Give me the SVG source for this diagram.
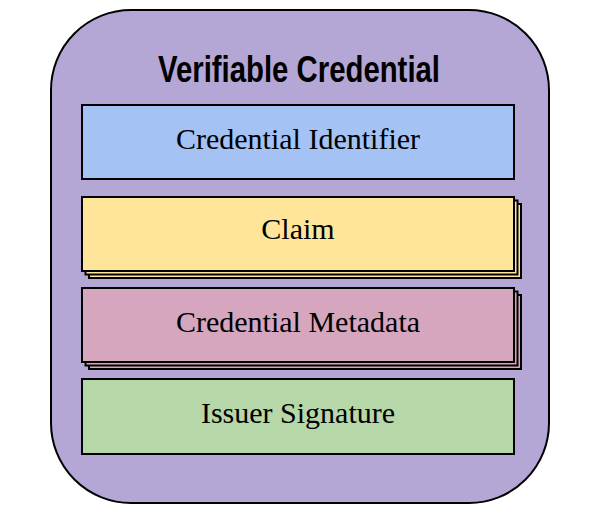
<svg xmlns="http://www.w3.org/2000/svg" width="600" height="513" viewBox="0 0 600 513">
<style>
.box{stroke:#000;stroke-width:2}
.lbl{font-family:"Liberation Serif","DejaVu Serif",serif;font-size:30px;fill:#000;text-anchor:middle}
</style>
<rect width="600" height="513" fill="#fff"/>
<g id="verifiable-credential">
<rect x="51" y="10" width="498" height="493" rx="80" ry="80" fill="#b4a7d6" stroke="#000" stroke-width="2"/>
<text x="299" y="82" font-family="'Liberation Sans',sans-serif" font-weight="bold" font-size="37" text-anchor="middle" fill="#000" textLength="282" lengthAdjust="spacingAndGlyphs">Verifiable Credential</text>
</g>
<g id="credential-identifier">
<rect class="box" x="82" y="105" width="432" height="74" fill="#a4c2f4"/>
<text class="lbl" x="298" y="149">Credential Identifier</text>
</g>
<g id="claim">
<rect class="box" x="89" y="204" width="432" height="74" fill="#ffe599"/>
<rect class="box" x="85.5" y="200.5" width="432" height="74" fill="#ffe599"/>
<rect class="box" x="82" y="197" width="432" height="74" fill="#ffe599"/>
<text class="lbl" x="298" y="239">Claim</text>
</g>
<g id="credential-metadata">
<rect class="box" x="89" y="295" width="432" height="74" fill="#d5a6bd"/>
<rect class="box" x="85.5" y="291.5" width="432" height="74" fill="#d5a6bd"/>
<rect class="box" x="82" y="288" width="432" height="74" fill="#d5a6bd"/>
<text class="lbl" x="298" y="332">Credential Metadata</text>
</g>
<g id="issuer-signature">
<rect class="box" x="82" y="379" width="432" height="75" fill="#b6d7a8"/>
<text class="lbl" x="298" y="423">Issuer Signature</text>
</g>
<g id="connectors"></g>
</svg>
